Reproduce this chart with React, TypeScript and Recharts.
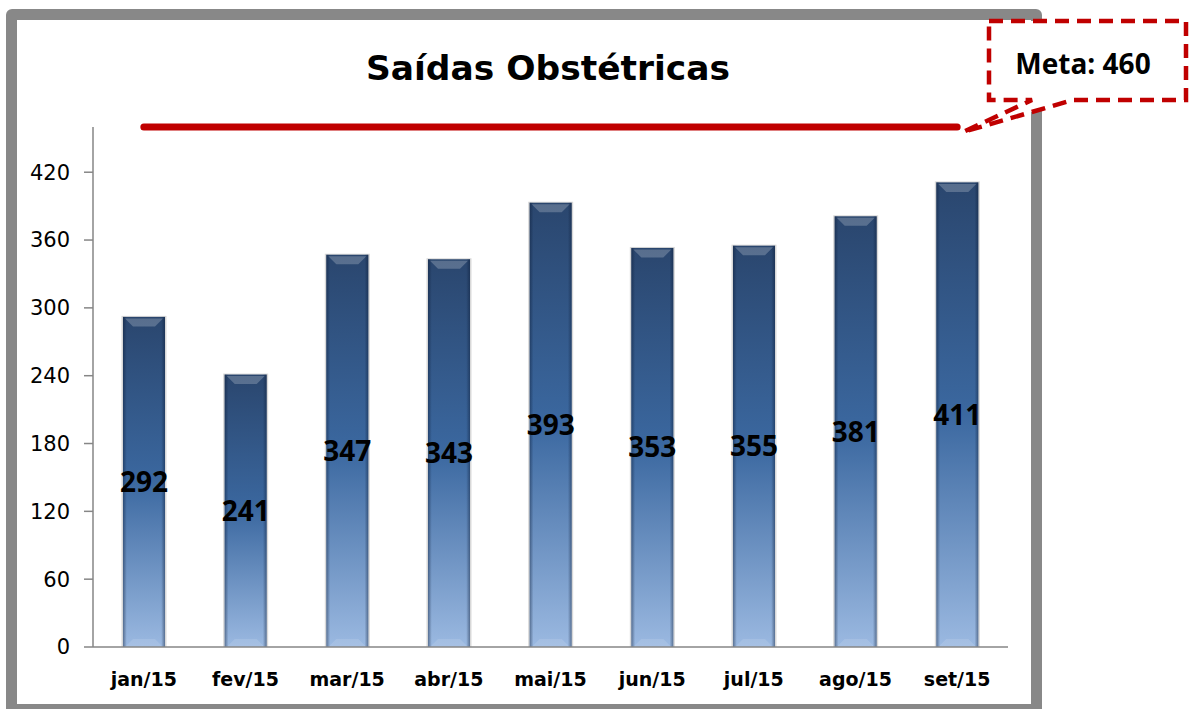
import React from 'react';
import { BarChart, Bar, XAxis, YAxis, LabelList, ReferenceLine } from 'recharts';

const categories = ['jan/15', 'fev/15', 'mar/15', 'abr/15', 'mai/15', 'jun/15', 'jul/15', 'ago/15', 'set/15'];
const values = [292, 241, 347, 343, 393, 353, 355, 381, 411];
const yTicks = [0, 60, 120, 180, 240, 300, 360, 420];
const meta = 460;
const title = 'Saídas Obstétricas';
const metaLabel = 'Meta: 460';

const data = categories.map((c, i) => ({ mes: c, valor: values[i] }));

const GlossyBar = (props: any) => {
  const { x, y, width, height } = props;
  if (!height || height <= 0) return null;
  const bev = Math.min(8, width / 5);
  return (
    <g>
      <rect x={x - 1.5} y={y - 1} width={width + 3} height={height + 1} fill="#c8c8c8" opacity={0.7} />
      <rect x={x} y={y} width={width} height={height} fill="url(#barVert)" />
      <rect x={x} y={y} width={width} height={height} fill="url(#barHoriz)" />
      <polygon
        points={`${x + 2},${y + 1.5} ${x + width - 2},${y + 1.5} ${x + width - 2 - bev},${y + 1.5 + bev} ${x + 2 + bev},${y + 1.5 + bev}`}
        fill="#ffffff"
        opacity={0.22}
      />
      <polygon
        points={`${x + 2},${y + height} ${x + width - 2},${y + height} ${x + width - 2 - bev},${y + height - bev} ${x + 2 + bev},${y + height - bev}`}
        fill="#ffffff"
        opacity={0.12}
      />
    </g>
  );
};

export default function App() {
  return (
    <div style={{ position: 'absolute', left: 0, top: 0, width: 1193, height: 709, background: '#ffffff', overflow: 'hidden' }}>
      <div
        style={{
          position: 'absolute',
          left: 6,
          top: 9,
          width: 1036,
          height: 706,
          border: '11px solid #888888',
          borderRadius: 6,
          boxSizing: 'border-box',
          background: '#ffffff',
        }}
      />
      <div style={{ position: 'absolute', left: 0, top: 0 }}>
        <BarChart
          width={1193}
          height={709}
          data={data}
          margin={{ top: 127, right: 185, bottom: 22, left: 33 }}
          barCategoryGap="29.5%"
        >
          <defs>
            <linearGradient id="barVert" x1="0" y1="0" x2="0" y2="1">
              <stop offset="0%" stopColor="#2a466e" />
              <stop offset="50%" stopColor="#3b68a0" />
              <stop offset="100%" stopColor="#9bb9e1" />
            </linearGradient>
            <linearGradient id="barHoriz" x1="0" y1="0" x2="1" y2="0">
              <stop offset="0%" stopColor="#0a1a35" stopOpacity={0.45} />
              <stop offset="9%" stopColor="#0a1a35" stopOpacity={0} />
              <stop offset="91%" stopColor="#0a1a35" stopOpacity={0} />
              <stop offset="100%" stopColor="#0a1a35" stopOpacity={0.45} />
            </linearGradient>
          </defs>
          <XAxis
            dataKey="mes"
            height={40}
            axisLine={{ stroke: '#868686', strokeWidth: 1.5 }}
            tickLine={false}
            tickSize={8}
            tickMargin={18}
            interval={0}
            tick={{ fontFamily: 'DejaVu Sans', fontWeight: 'bold', fontSize: 19, fill: '#000000' }}
          />
          <YAxis
            width={60}
            domain={[0, meta]}
            ticks={yTicks}
            allowDataOverflow
            axisLine={{ stroke: '#868686', strokeWidth: 1.5 }}
            tickLine={{ stroke: '#868686', strokeWidth: 1.5 }}
            tickSize={9}
            tickMargin={14}
            tick={{ fontFamily: 'DejaVu Sans', fontSize: 21, fill: '#000000' }}
          />
          <Bar dataKey="valor" isAnimationActive={false} shape={<GlossyBar />}>
            <LabelList
              dataKey="valor"
              position="center"
              style={{ fontFamily: 'Open Sans', fontWeight: 700, fontSize: 28, fill: '#000000' }}
            />
          </Bar>
          <ReferenceLine
            segment={[
              { x: categories[0], y: meta },
              { x: categories[categories.length - 1], y: meta },
            ]}
            stroke="#C00000"
            strokeWidth={7}
            strokeLinecap="round"
            ifOverflow="visible"
          />
        </BarChart>
      </div>
      <svg width={1193} height={709} style={{ position: 'absolute', left: 0, top: 0, pointerEvents: 'none' }}>
        <text
          x={548}
          y={80}
          textAnchor="middle"
          fontFamily="DejaVu Sans"
          fontWeight="bold"
          fontSize={33}
          textLength={364}
          lengthAdjust="spacingAndGlyphs"
          fill="#000000"
        >
          {title}
        </text>
        <path
          d="M 989 21 H 1186 V 100 H 1073 L 963 132 L 1032 100 H 989 Z"
          fill="#ffffff"
          stroke="#C00000"
          strokeWidth={4.5}
          strokeDasharray="14 8"
          strokeLinejoin="miter"
        />
        <text
          x={1083}
          y={74}
          textAnchor="middle"
          fontFamily="Open Sans"
          fontWeight={700}
          fontSize={28}
          fill="#000000"
        >
          {metaLabel}
        </text>
      </svg>
    </div>
  );
}
